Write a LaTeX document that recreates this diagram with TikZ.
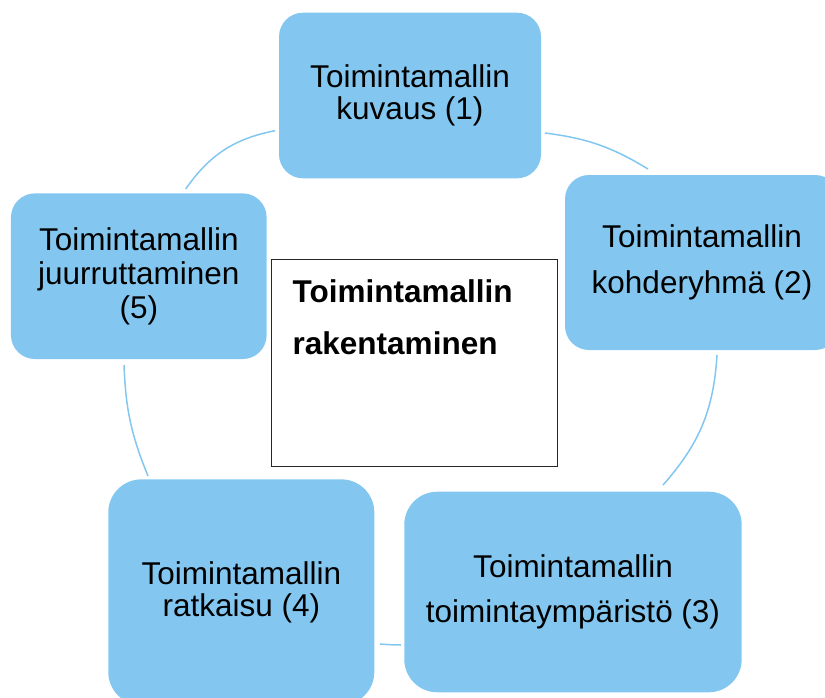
\documentclass[tikz,border=0pt]{standalone}
\usepackage{fontspec}
\setmainfont{Liberation Sans}
\definecolor{boxblue}{RGB}{131,199,240}
\definecolor{arcblue}{RGB}{131,199,240}
\tikzset{
  cyclebox/.style={draw=none, fill=boxblue, rounded corners=#1, inner sep=0pt, align=center, text=black},
  cyclebox/.default=24pt,
  cyclearc/.style={draw=arcblue, line width=1.5pt},
  centerbox/.style={draw=black!85, line width=1pt, fill=white, inner sep=0pt},
  tight/.style={font=\fontsize{31.5}{32.5}\selectfont},
  loose/.style={font=\fontsize{31.5}{45.5}\selectfont}
}
\begin{document}
\begin{tikzpicture}[x=1pt,y=-1pt]
\useasboundingbox (0,0) rectangle (825,697);
% arcs
\coordinate (a51s) at (185.7,189);
\coordinate (a51e) at (275,130.7);
\coordinate (a12s) at (545,133);
\coordinate (a12e) at (648,169);
\coordinate (a23s) at (717,355);
\coordinate (a23e) at (663,485);
\coordinate (a34s) at (401,645);
\coordinate (a34e) at (380,644);
\coordinate (a45s) at (148,476);
\coordinate (a45e) at (124,365);
\draw[cyclearc] (a51s) to[bend left=22] (a51e);
\draw[cyclearc] (a12s) to[bend left=12] (a12e);
\draw[cyclearc] (a23s) to[bend left=19] (a23e);
\draw[cyclearc] (a34s) to[bend left=2] (a34e);
\draw[cyclearc] (a45s) to[bend left=10] (a45e);
% boxes
\node[cyclebox, tight, minimum width=262pt, minimum height=165.6pt] (b1) at (410,95.5)
  {Toimintamallin\\kuvaus (1)};
\node[cyclebox, loose, minimum width=274pt, minimum height=175pt] (b2) at (702,262.5)
  {Toimintamallin\\kohderyhmä (2)};
\node[cyclebox=33pt, loose, minimum width=337.4pt, minimum height=200.6pt] (b3) at (573,592)
  {Toimintamallin\\toimintaympäristö (3)};
\node[cyclebox=33pt, tight, minimum width=266pt, minimum height=225.7pt] (b4) at (241.3,592.2)
  {Toimintamallin\\ratkaisu (4)};
\node[cyclebox, font=\fontsize{31.5}{34}\selectfont, minimum width=255.7pt, minimum height=165.7pt] (b5) at (138.8,276.2)
  {Toimintamallin\\juurruttaminen\\(5)};
% center box
\node[centerbox, minimum width=286pt, minimum height=207pt] (c) at (414,362.5) {};
\node[anchor=north west, inner sep=0pt, align=left, font=\fontsize{31.5}{52.6}\selectfont\bfseries] (ct) at (292.5,279)
  {Toimintamallin\\rakentaminen};
\end{tikzpicture}
\end{document}
